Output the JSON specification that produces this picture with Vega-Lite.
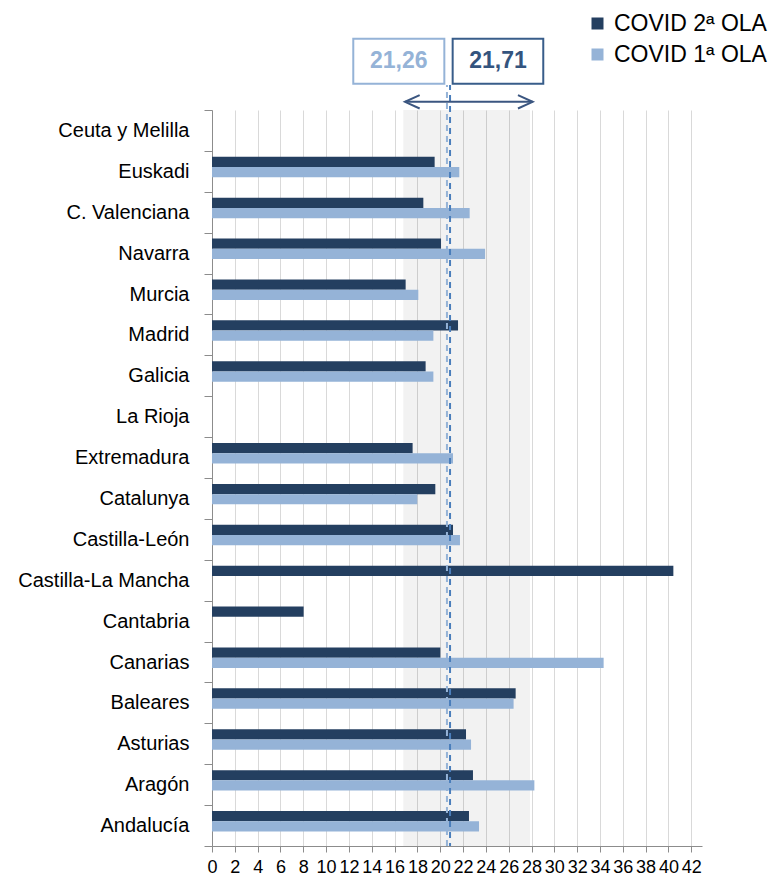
{
  "$schema": "https://vega.github.io/schema/vega-lite/v6.json",
  "autosize": {"type": "none"},
  "padding": {"left": 212, "top": 110, "right": 73, "bottom": 32},
  "width": 490,
  "height": 736,
  "config": {
    "view": {"stroke": null},
    "font": "Liberation Sans",
    "axisX": {"tickCount": 30, "grid": true, "gridColor": "#d9d9d9", "tickColor": "#8c8c8c", "tickSize": 6, "domainColor": "#8c8c8c", "labelFontSize": 18, "labelFont": "Liberation Sans", "labelColor": "#000000", "labelPadding": 6, "labelFlush": false, "labelOverlap": false}
  },
  "datasets": {
    "barras": [
      {"region": "Euskadi", "ola": "COVID 2ª OLA", "valor": 19.51},
      {"region": "Euskadi", "ola": "COVID 1ª OLA", "valor": 21.67},
      {"region": "C. Valenciana", "ola": "COVID 2ª OLA", "valor": 18.52},
      {"region": "C. Valenciana", "ola": "COVID 1ª OLA", "valor": 22.58},
      {"region": "Navarra", "ola": "COVID 2ª OLA", "valor": 20.07},
      {"region": "Navarra", "ola": "COVID 1ª OLA", "valor": 23.93},
      {"region": "Murcia", "ola": "COVID 2ª OLA", "valor": 16.97},
      {"region": "Murcia", "ola": "COVID 1ª OLA", "valor": 18.08},
      {"region": "Madrid", "ola": "COVID 2ª OLA", "valor": 21.56},
      {"region": "Madrid", "ola": "COVID 1ª OLA", "valor": 19.4},
      {"region": "Galicia", "ola": "COVID 2ª OLA", "valor": 18.72},
      {"region": "Galicia", "ola": "COVID 1ª OLA", "valor": 19.4},
      {"region": "Extremadura", "ola": "COVID 2ª OLA", "valor": 17.58},
      {"region": "Extremadura", "ola": "COVID 1ª OLA", "valor": 21.12},
      {"region": "Catalunya", "ola": "COVID 2ª OLA", "valor": 19.57},
      {"region": "Catalunya", "ola": "COVID 1ª OLA", "valor": 17.99},
      {"region": "Castilla-León", "ola": "COVID 2ª OLA", "valor": 21.12},
      {"region": "Castilla-León", "ola": "COVID 1ª OLA", "valor": 21.73},
      {"region": "Castilla-La Mancha", "ola": "COVID 2ª OLA", "valor": 40.43},
      {"region": "Cantabria", "ola": "COVID 2ª OLA", "valor": 8.03},
      {"region": "Canarias", "ola": "COVID 2ª OLA", "valor": 20.01},
      {"region": "Canarias", "ola": "COVID 1ª OLA", "valor": 34.32},
      {"region": "Baleares", "ola": "COVID 2ª OLA", "valor": 26.61},
      {"region": "Baleares", "ola": "COVID 1ª OLA", "valor": 26.43},
      {"region": "Asturias", "ola": "COVID 2ª OLA", "valor": 22.26},
      {"region": "Asturias", "ola": "COVID 1ª OLA", "valor": 22.7},
      {"region": "Aragón", "ola": "COVID 2ª OLA", "valor": 22.87},
      {"region": "Aragón", "ola": "COVID 1ª OLA", "valor": 28.25},
      {"region": "Andalucía", "ola": "COVID 2ª OLA", "valor": 22.52},
      {"region": "Andalucía", "ola": "COVID 1ª OLA", "valor": 23.4}
    ],
    "medias": [
      {"ola": "COVID 1ª OLA", "media": "21,26", "linea": 20.59, "caja_ini": 12.38, "caja_fin": 20.36, "centro": 16.37},
      {"ola": "COVID 2ª OLA", "media": "21,71", "linea": 20.86, "caja_ini": 21.09, "caja_fin": 29.03, "centro": 25.06}
    ],
    "rango": [
      {"ini": 16.76, "fin": 27.87, "flecha_ini": 16.91, "flecha_fin": 28.1}
    ]
  },
  "resolve": {"scale": {"y": "independent"}},
  "layer": [
    {
      "data": {"name": "rango"},
      "mark": {"type": "rect", "color": "#000000", "opacity": 0.05},
      "encoding": {
        "x": {
          "field": "ini", "type": "quantitative",
          "scale": {"domain": [0, 42.94], "nice": false},
          "axis": {"title": null, "tickCount": 30, "values": [0,2,4,6,8,10,12,14,16,18,20,22,24,26,28,30,32,34,36,38,40,42]}
        },
        "x2": {"field": "fin"}
      }
    },
    {
      "data": {"name": "barras"},
      "mark": {"type": "bar"},
      "encoding": {
        "y": {
          "field": "region", "type": "nominal",
          "scale": {"domain": ["Ceuta y Melilla","Euskadi","C. Valenciana","Navarra","Murcia","Madrid","Galicia","La Rioja","Extremadura","Catalunya","Castilla-León","Castilla-La Mancha","Cantabria","Canarias","Baleares","Asturias","Aragón","Andalucía"], "paddingInner": 0, "paddingOuter": 0},
          "axis": {"title": null, "tickBand": "extent", "ticks": true, "tickSize": 8, "tickColor": "#8c8c8c", "domainColor": "#8c8c8c", "labelFontSize": 20, "labelFont": "Liberation Sans", "labelColor": "#000000", "labelPadding": 15, "grid": false, "labelLimit": 300}
        },
        "yOffset": {
          "field": "ola", "type": "nominal",
          "scale": {"domain": ["COVID 2ª OLA", "COVID 1ª OLA"], "paddingInner": 0, "paddingOuter": 1.04, "align": 0.29}
        },
        "x": {
          "field": "valor", "type": "quantitative",
          "scale": {"domain": [0, 42.94], "nice": false},
          "axis": {"title": null, "tickCount": 30, "values": [0,2,4,6,8,10,12,14,16,18,20,22,24,26,28,30,32,34,36,38,40,42]}
        },
        "color": {
          "field": "ola", "type": "nominal",
          "scale": {"domain": ["COVID 2ª OLA", "COVID 1ª OLA"], "range": ["#243f60", "#95b3d7"]},
          "legend": {"title": null, "orient": "none", "legendX": 374, "legendY": -98, "symbolType": "square", "symbolSize": 144, "symbolStrokeWidth": 0, "labelFontSize": 23, "labelFont": "Liberation Sans", "labelColor": "#000000", "labelOffset": 5, "rowPadding": 7}
        }
      }
    },
    {
      "data": {"name": "medias"},
      "transform": [{"filter": "datum.ola === 'COVID 1ª OLA'"}],
      "mark": {"type": "rule", "color": "#95b3d7", "strokeWidth": 2, "strokeDash": [6, 5]},
      "encoding": {
        "x": {"field": "linea", "type": "quantitative"},
        "y": {"datum": 0, "type": "quantitative", "scale": {"domain": [0, 18], "nice": false, "zero": false}, "axis": null},
        "y2": {"datum": 18.61}
      }
    },
    {
      "data": {"name": "medias"},
      "transform": [{"filter": "datum.ola === 'COVID 2ª OLA'"}],
      "mark": {"type": "rule", "color": "#4a7ebb", "strokeWidth": 2, "strokeDash": [6, 5], "strokeDashOffset": 3},
      "encoding": {
        "x": {"field": "linea", "type": "quantitative"},
        "y": {"datum": 0, "type": "quantitative", "scale": {"domain": [0, 18], "nice": false, "zero": false}, "axis": null},
        "y2": {"datum": 18.61}
      }
    },
    {
      "data": {"name": "medias"},
      "transform": [{"filter": "datum.ola === 'COVID 1ª OLA'"}],
      "mark": {"type": "rect", "fill": "#ffffff", "stroke": "#95b3d7", "strokeWidth": 2},
      "encoding": {
        "x": {"field": "caja_ini", "type": "quantitative"},
        "x2": {"field": "caja_fin"},
        "y": {"datum": 18.64, "type": "quantitative", "scale": {"domain": [0, 18], "nice": false, "zero": false}, "axis": null},
        "y2": {"datum": 19.74}
      }
    },
    {
      "data": {"name": "medias"},
      "transform": [{"filter": "datum.ola === 'COVID 2ª OLA'"}],
      "mark": {"type": "rect", "fill": "#ffffff", "stroke": "#385d8a", "strokeWidth": 2},
      "encoding": {
        "x": {"field": "caja_ini", "type": "quantitative"},
        "x2": {"field": "caja_fin"},
        "y": {"datum": 18.64, "type": "quantitative", "scale": {"domain": [0, 18], "nice": false, "zero": false}, "axis": null},
        "y2": {"datum": 19.74}
      }
    },
    {
      "data": {"name": "medias"},
      "transform": [{"filter": "datum.ola === 'COVID 1ª OLA'"}],
      "mark": {"type": "text", "color": "#95b3d7", "fontSize": 23, "fontWeight": "bold", "font": "Liberation Sans", "align": "center", "baseline": "middle"},
      "encoding": {
        "x": {"field": "centro", "type": "quantitative"},
        "y": {"datum": 19.19, "type": "quantitative", "scale": {"domain": [0, 18], "nice": false, "zero": false}, "axis": null},
        "text": {"field": "media"}
      }
    },
    {
      "data": {"name": "medias"},
      "transform": [{"filter": "datum.ola === 'COVID 2ª OLA'"}],
      "mark": {"type": "text", "color": "#34547e", "fontSize": 23, "fontWeight": "bold", "font": "Liberation Sans", "align": "center", "baseline": "middle"},
      "encoding": {
        "x": {"field": "centro", "type": "quantitative"},
        "y": {"datum": 19.19, "type": "quantitative", "scale": {"domain": [0, 18], "nice": false, "zero": false}, "axis": null},
        "text": {"field": "media"}
      }
    },
    {
      "data": {"name": "rango"},
      "mark": {"type": "rule", "color": "#3b5680", "strokeWidth": 2},
      "encoding": {
        "x": {"field": "flecha_ini", "type": "quantitative"},
        "x2": {"field": "flecha_fin"},
        "y": {"datum": 18.2, "type": "quantitative", "scale": {"domain": [0, 18], "nice": false, "zero": false}, "axis": null}
      }
    },
    {
      "data": {"name": "rango"},
      "mark": {"type": "point", "shape": "M 2.1 -0.95 L 0 0 L 2.1 0.95", "size": 196, "filled": false, "stroke": "#3b5680", "strokeWidth": 2, "opacity": 1},
      "encoding": {
        "x": {"field": "flecha_ini", "type": "quantitative"},
        "y": {"datum": 18.2, "type": "quantitative", "scale": {"domain": [0, 18], "nice": false, "zero": false}, "axis": null}
      }
    },
    {
      "data": {"name": "rango"},
      "mark": {"type": "point", "shape": "M -2.1 -0.95 L 0 0 L -2.1 0.95", "size": 196, "filled": false, "stroke": "#3b5680", "strokeWidth": 2, "opacity": 1},
      "encoding": {
        "x": {"field": "flecha_fin", "type": "quantitative"},
        "y": {"datum": 18.2, "type": "quantitative", "scale": {"domain": [0, 18], "nice": false, "zero": false}, "axis": null}
      }
    }
  ]
}
